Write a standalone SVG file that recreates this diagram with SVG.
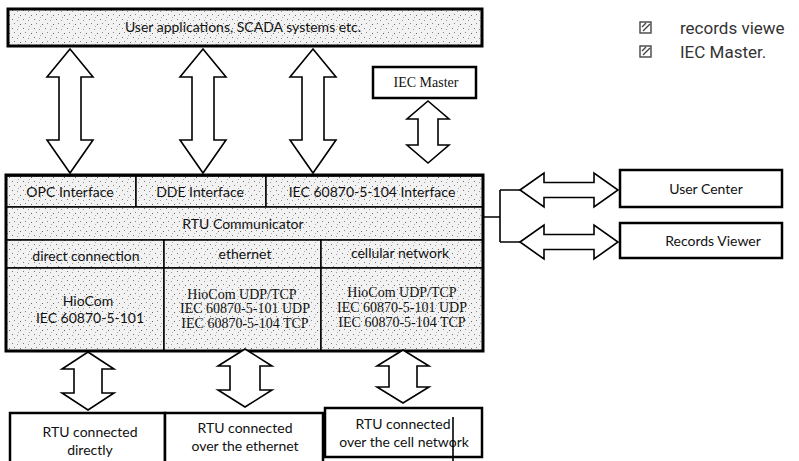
<svg xmlns="http://www.w3.org/2000/svg" width="799" height="461" viewBox="0 0 799 461">
<defs>
<pattern id="stip" width="11" height="9" patternUnits="userSpaceOnUse">
<rect width="11" height="9" fill="#f2f2f2"/>
<rect x="1" y="1" width="1" height="1" fill="#777"/>
<rect x="6" y="2" width="1" height="1" fill="#999"/>
<rect x="3" y="5" width="1" height="1" fill="#888"/>
<rect x="9" y="6" width="1" height="1" fill="#666"/>
<rect x="7" y="8" width="1" height="1" fill="#aaa"/>
</pattern>
<style>
.cell{fill:url(#stip);stroke:#000;stroke-width:1.5}
.outer{fill:none;stroke:#000;stroke-width:3}
.box{fill:#fff;stroke:#000;stroke-width:2.5}
.arr{fill:#fff;stroke:#000;stroke-width:1.6;stroke-linejoin:miter}
.ln{fill:none;stroke:#000;stroke-width:1.6}
.s{font-family:Lato,"Open Sans",sans-serif;font-size:14px;fill:#111;text-anchor:middle}
.r{font-family:"Liberation Serif",serif;font-size:14px;fill:#111;text-anchor:middle}
.g{font-family:Roboto,"Noto Sans",sans-serif;font-size:17px;fill:#333}
</style>
</defs>
<rect width="799" height="461" fill="#fff"/>

<g id="user-apps">
<rect x="8" y="9" width="474" height="37" fill="url(#stip)" stroke="#000" stroke-width="3"/>
<text class="s" x="243" y="32" font-size="14.5">User applications, SCADA systems etc.</text>
</g>

<g id="iec-master">
<rect class="box" x="373" y="67" width="103" height="31"/>
<text class="r" x="426" y="87" font-size="13">IEC Master</text>
</g>

<g id="rtu-communicator-block">
<rect class="cell" x="6" y="176" width="130" height="31"/>
<rect class="cell" x="136" y="176" width="130" height="31"/>
<rect class="cell" x="266" y="176" width="217" height="31"/>
<rect class="cell" x="6" y="207" width="477" height="33"/>
<rect class="cell" x="6" y="240" width="158" height="28"/>
<rect class="cell" x="164" y="240" width="157" height="28"/>
<rect class="cell" x="321" y="240" width="162" height="28"/>
<rect class="cell" x="6" y="268" width="158" height="83"/>
<rect class="cell" x="164" y="268" width="157" height="83"/>
<rect class="cell" x="321" y="268" width="162" height="83"/>
<rect class="outer" x="6" y="175" width="477" height="176"/>
<text class="s" x="70" y="197">OPC Interface</text>
<text class="s" x="200" y="197">DDE Interface</text>
<text class="s" x="372" y="197">IEC 60870-5-104 Interface</text>
<text class="s" x="243" y="229">RTU Communicator</text>
<text class="s" x="86" y="261">direct connection</text>
<text class="s" x="245" y="259">ethernet</text>
<text class="s" x="400" y="258">cellular network</text>
<text class="s" x="88" y="306">HioCom</text>
<text class="s" x="90" y="323">IEC 60870-5-101</text>
<text class="r" x="242" y="299">HioCom UDP/TCP</text>
<text class="r" x="245" y="313">IEC 60870-5-101 UDP</text>
<text class="r" x="245" y="328">IEC 60870-5-104 TCP</text>
<text class="r" x="402" y="297">HioCom UDP/TCP</text>
<text class="r" x="402" y="312">IEC 60870-5-101 UDP</text>
<text class="r" x="402" y="327">IEC 60870-5-104 TCP</text>
</g>

<g id="user-center">
<rect class="box" x="620" y="170" width="162" height="37"/>
<text class="s" x="706" y="194">User Center</text>
</g>
<g id="records-viewer">
<rect class="box" x="620" y="223" width="162" height="35"/>
<text class="s" x="713" y="246">Records Viewer</text>
</g>

<g id="rtu-direct">
<rect class="box" x="10" y="413" width="155" height="60"/>
<text class="s" x="90" y="437" font-size="15">RTU connected</text>
<text class="s" x="90" y="455" font-size="15">directly</text>
</g>
<g id="rtu-ethernet">
<rect class="box" x="165" y="413" width="158" height="60"/>
<text class="s" x="245" y="433" font-size="15">RTU connected</text>
<text class="s" x="245" y="451" font-size="15">over the ethernet</text>
</g>
<g id="rtu-cell">
<rect class="box" x="325" y="408" width="157" height="49"/>
<text class="s" x="403" y="429" font-size="15">RTU connected</text>
<text class="s" x="404" y="447" font-size="15">over the cell network</text>
<line class="ln" x1="453" y1="417" x2="453" y2="461"/>
</g>

<g id="connectors">
<path class="arr" d="M70,49 L93,77 L81,77 L81,140 L93,140 L70,173 L47,140 L59,140 L59,77 L47,77 Z"/>
<path class="arr" d="M203,49 L226,77 L214,77 L214,140 L226,140 L203,173 L180,140 L192,140 L192,77 L180,77 Z"/>
<path class="arr" d="M313,49 L336,77 L324,77 L324,140 L336,140 L313,173 L290,140 L302,140 L302,77 L290,77 Z"/>
<path class="arr" d="M428,101 L449,119 L438,119 L438,145 L449,145 L428,163 L407,145 L418,145 L418,119 L407,119 Z"/>
<path class="arr" d="M88,352 L114,369 L102,369 L102,393 L114,393 L88,410 L62,393 L74,393 L74,369 L62,369 Z"/>
<path class="arr" d="M245,349 L272,366 L260,366 L260,390 L272,390 L245,407 L218,390 L230,390 L230,366 L218,366 Z"/>
<path class="arr" d="M403,350 L429,366 L417,366 L417,387 L429,387 L403,403 L377,387 L389,387 L389,366 L377,366 Z"/>
<path class="ln" d="M483,217 H500 M500,190 V242 M500,190 H520 M500,242 H520"/>
<path class="arr" d="M520,190 L544,173 L544,182.5 L594,182.5 L594,173 L618,190 L594,207 L594,197.5 L544,197.5 L544,207 Z"/>
<path class="arr" d="M520,242 L544,225 L544,234.5 L594,234.5 L594,225 L618,242 L594,259 L594,249.5 L544,249.5 L544,259 Z"/>
</g>

<g id="side-list">
<g fill="none" stroke="#444" stroke-width="1.4">
<rect x="640" y="22" width="11" height="11"/>
<path d="M643,31 L650,24 M642,27 L646,23"/>
<rect x="640" y="46" width="11" height="11"/>
<path d="M643,55 L650,48 M642,51 L646,47"/>
</g>
<text class="g" x="680" y="34">records viewe</text>
<text class="g" x="680" y="58">IEC Master.</text>
</g>
</svg>
